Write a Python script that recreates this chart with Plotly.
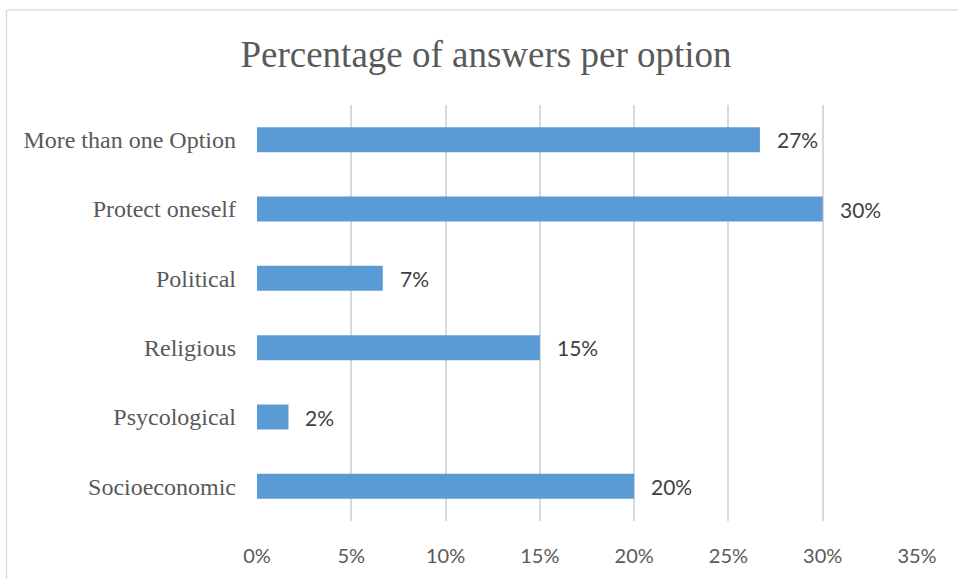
import plotly.graph_objects as go

# Survey results: share of answers per option (bottom to top)
categories = [
    "Socioeconomic",
    "Psycological",
    "Religious",
    "Political",
    "Protect oneself",
    "More than one Option",
]
shares = [0.20, 0.0167, 0.15, 0.0667, 0.30, 0.2667]
x_ticks = [0, 0.05, 0.10, 0.15, 0.20, 0.25, 0.30, 0.35]
x_tick_labels = ["0%", "5%", "10%", "15%", "20%", "25%", "30%", "35%"]

BAR = "#5B9BD5"
GRID = "#D9D9D9"
TEXT = "#595959"
LABEL = "#404040"

fig = go.Figure(
    go.Bar(
        x=shares,
        y=categories,
        orientation="h",
        marker=dict(color=BAR, line=dict(width=0)),
        width=0.36,
        hoverinfo="skip",
    )
)

# value labels to the right of each bar
for cat, val in zip(categories, shares):
    fig.add_annotation(
        x=val, y=cat, xref="x", yref="y",
        text=f"{val:.0%}",
        showarrow=False, xanchor="left", yanchor="middle",
        xshift=15,
        font=dict(family="Lato, Carlito, sans-serif", size=21, color=LABEL),
    )

# chart frame (top and left edges)
W, H = 958, 579
L, R, T, B = 257, 41, 105, 56
pw, ph = W - L - R, H - T - B


def px_x(px):
    return (px - L) / pw


def px_y(py):
    return (H - B - py) / ph


for x0, y0, x1, y1 in [(6.5, 9.5, 1000, 9.5), (6.5, 9.5, 6.5, 700)]:
    fig.add_shape(
        type="line", xref="paper", yref="paper",
        x0=px_x(x0), y0=px_y(y0), x1=px_x(x1), y1=px_y(y1),
        line=dict(color=GRID, width=1.3),
    )

fig.update_layout(
    width=W, height=H,
    margin=dict(l=L, r=R, t=T, b=B),
    paper_bgcolor="white",
    plot_bgcolor="white",
    showlegend=False,
    title=dict(
        text="Percentage of answers per option",
        x=486 / W, xref="container", xanchor="center",
        y=1 - 54 / H, yref="container", yanchor="middle",
        font=dict(family="Liberation Serif, Times New Roman, serif", size=37, color=TEXT),
    ),
    xaxis=dict(
        range=[0, 0.35],
        tickvals=x_ticks,
        ticktext=x_tick_labels,
        showgrid=True, gridcolor=GRID, gridwidth=1.5,
        zeroline=False, showline=False,
        ticks="", ticklabelstandoff=21,
        tickfont=dict(family="Lato, Carlito, sans-serif", size=20, color=TEXT),
        fixedrange=True,
    ),
    yaxis=dict(
        categoryorder="array", categoryarray=categories,
        showgrid=False, zeroline=False, showline=False,
        ticks="", ticklabelstandoff=20,
        tickfont=dict(family="Liberation Serif, Times New Roman, serif", size=24, color=TEXT),
        fixedrange=True,
    ),
)

fig.write_html("out.html")
